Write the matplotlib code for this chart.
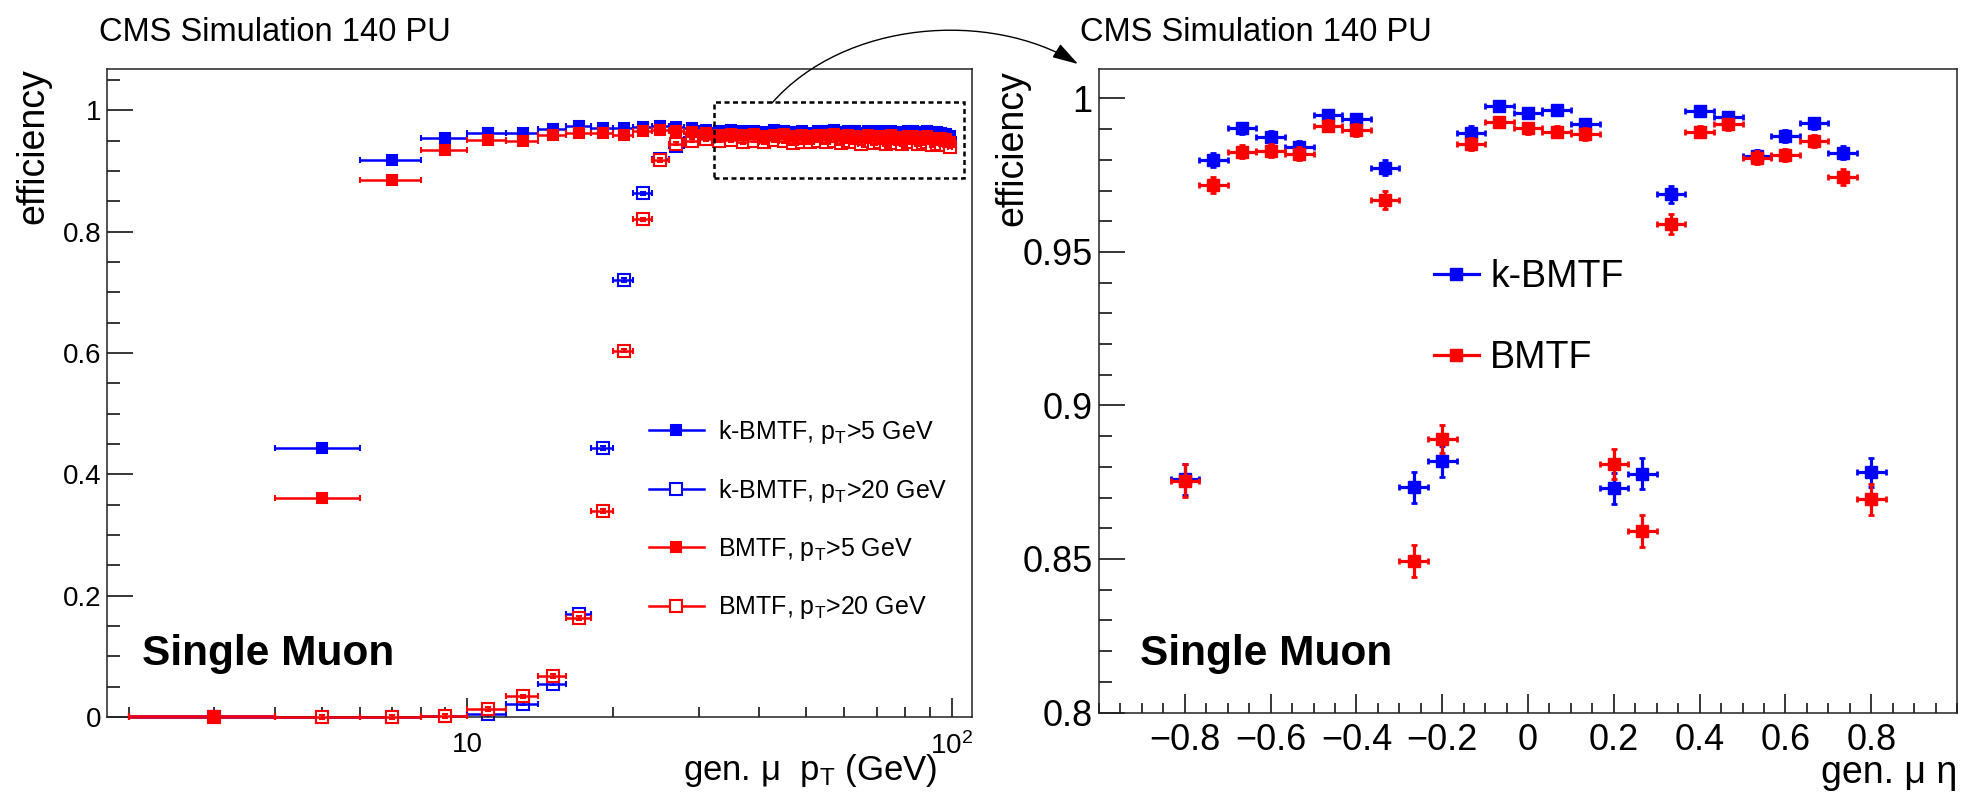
import numpy as np
import matplotlib
matplotlib.use('Agg')
import matplotlib.pyplot as plt
from matplotlib.lines import Line2D
from matplotlib.patches import Rectangle, FancyArrowPatch
from matplotlib.path import Path
from matplotlib.ticker import FixedLocator, FixedFormatter, MultipleLocator, FuncFormatter, NullFormatter

plt.rcParams['font.family'] = ['Liberation Sans', 'DejaVu Sans']
plt.rcParams['mathtext.fontset'] = 'custom'
plt.rcParams['mathtext.rm'] = 'Liberation Sans'
plt.rcParams['mathtext.it'] = 'Liberation Sans:italic'
plt.rcParams['mathtext.bf'] = 'Liberation Sans:bold'

BLUE = '#0000ff'
RED = '#ff0000'

# ---- left panel: efficiency vs gen pT (bins of 2 GeV from 2 to 100) ----
pt_centers = [3, 5, 7, 9, 11, 13, 15, 17, 19, 21, 23, 25, 27, 29,
              31, 33, 35, 37, 39, 41, 43, 45, 47, 49, 51, 53, 55, 57, 59,
              61, 63, 65, 67, 69, 71, 73, 75, 77, 79, 81, 83, 85, 87, 89,
              91, 93, 95, 97, 99]
pt_halfwidth = 1.0

eff_kbmtf_pt5 = [0.002, 0.443, 0.918, 0.954, 0.962, 0.962, 0.969, 0.974, 0.971, 0.970, 0.972, 0.974, 0.972, 0.970,
                 0.968, 0.966, 0.967, 0.965, 0.966, 0.964, 0.967, 0.966, 0.964, 0.965, 0.963, 0.966, 0.965, 0.967, 0.964,
                 0.966, 0.965, 0.963, 0.966, 0.964, 0.965, 0.963, 0.966, 0.964, 0.962, 0.965, 0.966, 0.963, 0.964, 0.965,
                 0.962, 0.964, 0.963, 0.961, 0.957]
eff_kbmtf_pt20 = [0.000, 0.000, 0.000, 0.001, 0.005, 0.022, 0.055, 0.170, 0.443, 0.720, 0.863, 0.919, 0.941, 0.952,
                  0.957, 0.955, 0.956, 0.954, 0.955, 0.953, 0.956, 0.955, 0.952, 0.954, 0.953, 0.955, 0.954, 0.956, 0.953,
                  0.955, 0.954, 0.951, 0.955, 0.953, 0.954, 0.951, 0.954, 0.952, 0.951, 0.953, 0.954, 0.951, 0.952, 0.953,
                  0.950, 0.952, 0.951, 0.949, 0.946]
eff_bmtf_pt5 = [0.001, 0.361, 0.885, 0.934, 0.951, 0.950, 0.959, 0.962, 0.962, 0.959, 0.965, 0.967, 0.966, 0.964,
                0.962, 0.960, 0.961, 0.959, 0.961, 0.958, 0.960, 0.961, 0.957, 0.959, 0.958, 0.960, 0.959, 0.961, 0.957,
                0.959, 0.958, 0.956, 0.960, 0.957, 0.958, 0.955, 0.959, 0.956, 0.955, 0.958, 0.957, 0.955, 0.956, 0.957,
                0.954, 0.955, 0.954, 0.952, 0.948]
eff_bmtf_pt20 = [0.000, 0.000, 0.000, 0.002, 0.013, 0.034, 0.068, 0.163, 0.340, 0.604, 0.820, 0.918, 0.945, 0.950,
                 0.952, 0.950, 0.951, 0.948, 0.950, 0.948, 0.951, 0.949, 0.946, 0.948, 0.947, 0.950, 0.948, 0.950, 0.946,
                 0.949, 0.948, 0.945, 0.949, 0.946, 0.948, 0.944, 0.948, 0.946, 0.944, 0.947, 0.947, 0.944, 0.946, 0.947,
                 0.943, 0.945, 0.944, 0.942, 0.940]
pt_yerr = 0.003

# (values, colour, filled, label, zorder) - open markers underneath, filled on top
left_series = [
    (eff_kbmtf_pt5, BLUE, True, 'k-BMTF, p$_{\\mathrm{T}}$>5 GeV', 4),
    (eff_kbmtf_pt20, BLUE, False, 'k-BMTF, p$_{\\mathrm{T}}$>20 GeV', 2),
    (eff_bmtf_pt5, RED, True, 'BMTF, p$_{\\mathrm{T}}$>5 GeV', 5),
    (eff_bmtf_pt20, RED, False, 'BMTF, p$_{\\mathrm{T}}$>20 GeV', 3),
]

# ---- right panel: efficiency vs gen eta ----
eta_centers = [-12/15, -11/15, -10/15, -9/15, -8/15, -7/15, -6/15, -5/15, -4/15, -3/15, -2/15, -1/15, 0,
               1/15, 2/15, 3/15, 4/15, 5/15, 6/15, 7/15, 8/15, 9/15, 10/15, 11/15, 12/15]
eta_halfwidth = 1/30

eff_kbmtf_eta = [0.8759, 0.9800, 0.9903, 0.9873, 0.9843, 0.9946, 0.9933, 0.9775, 0.8734, 0.8818, 0.9889, 0.9976, 0.9954,
                 0.9963, 0.9916, 0.8730, 0.8778, 0.9688, 0.9959, 0.9939, 0.9813, 0.9878, 0.9919, 0.9824, 0.8783]
err_kbmtf_eta = [0.005, 0.0022, 0.0018, 0.002, 0.002, 0.0016, 0.0017, 0.0024, 0.005, 0.005, 0.002, 0.0013, 0.0015,
                 0.0014, 0.0018, 0.005, 0.005, 0.0027, 0.0015, 0.0016, 0.002, 0.0019, 0.0017, 0.0022, 0.0047]
eff_bmtf_eta = [0.8755, 0.9719, 0.9827, 0.9830, 0.9820, 0.9911, 0.9898, 0.9670, 0.8494, 0.8892, 0.9852, 0.9923, 0.9903,
                0.9892, 0.9885, 0.8810, 0.8591, 0.9592, 0.9892, 0.9916, 0.9807, 0.9816, 0.9862, 0.9744, 0.8694]
err_bmtf_eta = [0.0053, 0.0026, 0.0022, 0.0022, 0.0022, 0.0018, 0.0019, 0.003, 0.0053, 0.0046, 0.002, 0.0017, 0.0018,
                0.0019, 0.002, 0.0048, 0.0052, 0.0033, 0.0019, 0.0018, 0.0022, 0.0021, 0.002, 0.0025, 0.005]

W, H = 1962, 796


def fx(px):
    return px / W


def fy(py):
    return 1 - py / H


def no_clip(container, z):
    for art in container.get_children():
        art.set_clip_on(False)
        art.set_zorder(z)


fig = plt.figure(figsize=(W / 100, H / 100), dpi=100)
ax1 = fig.add_axes([fx(106.7), fy(717), fx(972) - fx(106.7), fy(69) - fy(717)])
ax2 = fig.add_axes([fx(1099), fy(712.5), fx(1957) - fx(1099), fy(69) - fy(712.5)])

# left panel
handles = []
for vals, col, filled, lab, z in left_series:
    mfc = col if filled else 'white'
    ms = 7.5 if filled else 8.5
    c = ax1.errorbar(pt_centers, vals, xerr=pt_halfwidth, yerr=pt_yerr, fmt='s', color=col, mfc=mfc, mec=col,
                     ms=ms, mew=1.5, elinewidth=1.8, capsize=2, capthick=1.8)
    no_clip(c, z)
    handles.append(Line2D([], [], color=col, marker='s', mfc=mfc, mec=col, ms=ms, mew=1.5, lw=1.8))

ax1.set_xscale('log')
ax1.set_xlim(1.8, 110)
ax1.set_ylim(0, 1.068)
ax1.xaxis.set_major_locator(FixedLocator([10, 100]))
ax1.xaxis.set_major_formatter(FixedFormatter(['10', '$10^{2}$']))
ax1.xaxis.set_minor_locator(FixedLocator([2, 3, 4, 5, 6, 7, 8, 9, 20, 30, 40, 50, 60, 70, 80, 90]))
ax1.xaxis.set_minor_formatter(NullFormatter())
ax1.yaxis.set_major_locator(MultipleLocator(0.2))
ax1.yaxis.set_minor_locator(MultipleLocator(0.05))
ax1.yaxis.set_major_formatter(FuncFormatter(lambda v, p: '%g' % round(v, 3)))
ax1.tick_params(axis='both', which='both', direction='in', top=False, right=False, width=1.1)
ax1.tick_params(axis='y', which='major', length=19, pad=3.5, labelsize=20)
ax1.tick_params(axis='y', which='minor', length=9)
ax1.tick_params(axis='x', which='major', length=14, pad=11, labelsize=20)
ax1.tick_params(axis='x', which='minor', length=7)

ax1.legend(handles, [s[3] for s in left_series], loc='upper left', bbox_to_anchor=(0.6267, 0.462),
           frameon=False, fontsize=18, handlelength=2.2, handletextpad=0.55, labelspacing=1.25,
           borderpad=0, borderaxespad=0)

ax1.add_patch(Rectangle((32.3, 0.889), 106 - 32.3, 1.013 - 0.889, fill=False, ec='black', lw=1.8,
                        ls=(0, (2, 1.4)), clip_on=False, zorder=6))

# right panel
right_series = [
    (eff_kbmtf_eta, err_kbmtf_eta, BLUE, 'k-BMTF'),
    (eff_bmtf_eta, err_bmtf_eta, RED, 'BMTF'),
]
rhandles = []
for vals, errs, col, lab in right_series:
    c = ax2.errorbar(eta_centers, vals, xerr=eta_halfwidth, yerr=errs, fmt='s', color=col, ms=8,
                     elinewidth=2.3, capsize=2.5, capthick=2)
    no_clip(c, 3)
    rhandles.append(Line2D([], [], color=col, marker='s', ms=9, lw=2.3))

ax2.set_xlim(-1, 1)
ax2.set_ylim(0.8, 1.0096)
ax2.xaxis.set_major_locator(FixedLocator([-0.8, -0.6, -0.4, -0.2, 0, 0.2, 0.4, 0.6, 0.8]))
ax2.xaxis.set_minor_locator(MultipleLocator(0.05))
ax2.xaxis.set_major_formatter(FuncFormatter(lambda v, p: ('%g' % round(v, 3)).replace('-', '\u2212')))
ax2.yaxis.set_major_locator(MultipleLocator(0.05))
ax2.yaxis.set_minor_locator(MultipleLocator(0.01))
ax2.yaxis.set_major_formatter(FuncFormatter(lambda v, p: '%g' % round(v, 3)))
ax2.tick_params(axis='both', which='both', direction='in', top=False, right=False, width=1.1)
ax2.tick_params(axis='y', which='major', length=19, pad=4.5, labelsize=26)
ax2.tick_params(axis='y', which='minor', length=9)
ax2.tick_params(axis='x', which='major', length=14, pad=7.5, labelsize=26)
ax2.tick_params(axis='x', which='minor', length=7)

ax2.legend(rhandles, [s[3] for s in right_series], loc='upper left', bbox_to_anchor=(0.3904, 0.705),
           frameon=False, fontsize=27, handlelength=1.2, handletextpad=0.3, labelspacing=1.2,
           borderpad=0, borderaxespad=0)

for ax in (ax1, ax2):
    for sp in ax.spines.values():
        sp.set_linewidth(1.1)
        sp.set_color('#222222')

# text
fig.text(fx(99), fy(41), 'CMS Simulation 140 PU', fontsize=23.5, va='baseline')
fig.text(fx(1080), fy(41), 'CMS Simulation 140 PU', fontsize=23.5, va='baseline')
fig.text(fx(33), fy(68), 'efficiency', rotation=90, ha='center', va='top', fontsize=27)
fig.text(fx(1012), fy(70), 'efficiency', rotation=90, ha='center', va='top', fontsize=27)
fig.text(fx(937), fy(780), 'gen. \u03bc  p$_{\\mathrm{T}}$ (GeV)', ha='right', va='baseline', fontsize=25)
fig.text(fx(1957), fy(783), 'gen. \u03bc \u03b7', ha='right', va='baseline', fontsize=27)
fig.text(fx(142), fy(665), 'Single Muon', fontweight='bold', fontsize=30.5, va='baseline')
fig.text(fx(1140), fy(665), 'Single Muon', fontweight='bold', fontsize=30.5, va='baseline')

# arrow from the zoom box to the right panel
pts = [(772, 103), (845, 20), (990, 10), (1078, 64)]
verts = [(fx(x), fy(y)) for x, y in pts]
arrow = FancyArrowPatch(path=Path(verts, [Path.MOVETO, Path.CURVE4, Path.CURVE4, Path.CURVE4]),
                        arrowstyle='-|>,head_length=1.0,head_width=0.3', mutation_scale=16,
                        lw=1.0, color='black', transform=fig.transFigure)
fig.add_artist(arrow)

fig.savefig('out.png', dpi=100)
